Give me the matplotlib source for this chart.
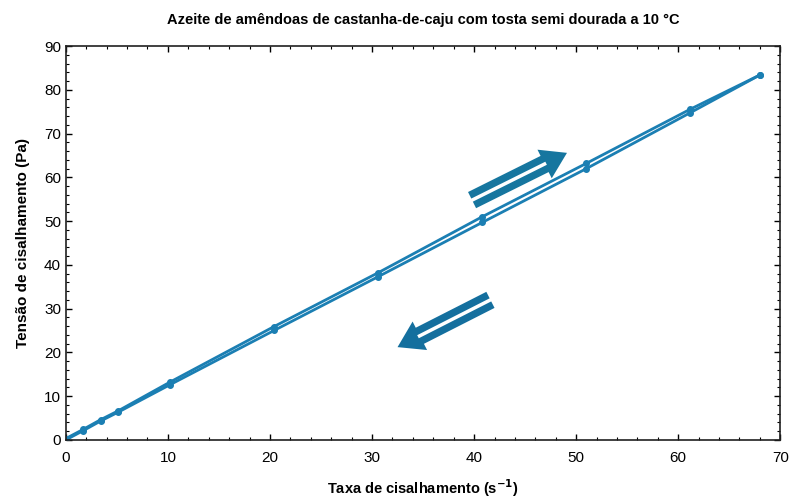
import numpy as np
import matplotlib
matplotlib.use("Agg")
import matplotlib.pyplot as plt
from matplotlib.ticker import MultipleLocator

plt.rcParams['font.family'] = ['Liberation Sans', 'DejaVu Sans']

# shear rate (1/s) and shear stress (Pa), up and down curves
rate = [0, 1.7, 3.4, 5.1, 10.2, 20.4, 30.6, 40.8, 51.0, 61.2, 68.0]
stress_up = [0.0, 2.1, 4.3, 6.3, 12.6, 25.0, 37.3, 49.7, 62.0, 74.8, 83.4]
stress_down = [0.3, 2.4, 4.6, 6.6, 13.2, 25.9, 38.2, 51.0, 63.2, 75.6, 83.4]

color = '#1b7fb3'

fig = plt.figure(figsize=(7.93, 5.01), dpi=100)
ax = fig.add_axes([0.083, 0.122, 0.901, 0.786])

ax.plot(rate, stress_up, '-o', color=color, lw=2, ms=4)
ax.plot(rate, stress_down, '-o', color=color, lw=2, ms=4)

ax.set_xlim(0, 70)
ax.set_ylim(0, 90)
ax.xaxis.set_major_locator(MultipleLocator(10))
ax.yaxis.set_major_locator(MultipleLocator(10))
ax.xaxis.set_minor_locator(MultipleLocator(2))
ax.yaxis.set_minor_locator(MultipleLocator(2))
ax.tick_params(which='both', direction='in', top=True, right=True, labelsize=11)
ax.tick_params(which='major', length=4, width=1)
ax.tick_params(which='minor', length=2, width=0.8)
ax.tick_params(axis='x', pad=8)
for s in ax.spines.values():
    s.set_linewidth(1.2)
    s.set_color('#202020')

ax.set_title('Azeite de amêndoas de castanha-de-caju com tosta semi dourada a 10 °C',
             fontsize=10.5, fontweight='bold', pad=16)
ax.set_xlabel('Taxa de cisalhamento (s$^{\\mathbf{-1}}$)', fontsize=10.5, fontweight='bold', labelpad=9)
ax.set_ylabel('Tensão de cisalhamento (Pa)', fontsize=11, fontweight='bold', labelpad=10)

# direction arrows: filled arrow with a white line splitting the shaft
def double_arrow(x0, y0, x1, y1, col):
    ax.annotate('', xy=(x1, y1), xytext=(x0, y0),
                arrowprops=dict(arrowstyle='simple,head_length=0.9,head_width=1.15,tail_width=0.65',
                                mutation_scale=20, color=col, lw=0, shrinkA=0, shrinkB=0))
    t = 0.78
    ax.plot([x0 - 0.2 * np.sign(x1 - x0), x0 + t * (x1 - x0)],
            [y0 - 0.2 * np.sign(x1 - x0) * (y1 - y0) / (x1 - x0), y0 + t * (y1 - y0)],
            color='white', lw=2.5, solid_capstyle='butt', zorder=5)

double_arrow(39.8, 54.8, 49.1, 65.6, '#16769f')
double_arrow(41.6, 32.0, 32.5, 21.2, '#146f9e')

fig.savefig('out.png', dpi=100)
